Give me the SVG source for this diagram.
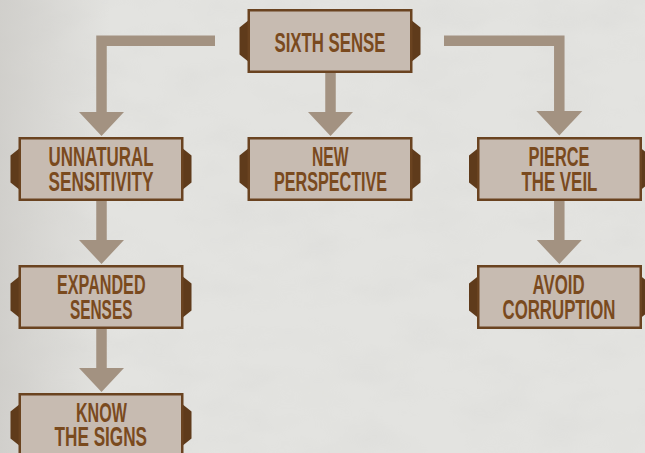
<svg xmlns="http://www.w3.org/2000/svg" width="645" height="453" viewBox="0 0 645 453">
  <defs>
    <style>
      .box { fill: #c7bbb1; stroke: #6a4320; stroke-width: 2.5; }
      .tab { fill: #5f3b1b; }
      .lbl { font-family: "Liberation Sans Narrow", "Liberation Sans", Arial, sans-serif; font-size: 27px; font-weight: bold; fill: #7a4a1e; text-anchor: middle; }
      .con { fill: none; stroke: #a39281; stroke-width: 10.5; stroke-linejoin: miter; stroke-linecap: butt; }
    </style>
    <linearGradient id="bgL" x1="0" y1="0" x2="1" y2="0">
      <stop offset="0" stop-color="#c9c7c3" stop-opacity="0.7"/>
      <stop offset="1" stop-color="#c9c7c3" stop-opacity="0"/>
    </linearGradient>
    <filter id="tex" x="0" y="0" width="100%" height="100%">
      <feTurbulence type="fractalNoise" baseFrequency="0.015 0.03" numOctaves="3" seed="4"/>
      <feColorMatrix type="matrix" values="0 0 0 0 0.55  0 0 0 0 0.55  0 0 0 0 0.54  0 0 0 -0.9 0.55"/>
    </filter>
    <marker id="ah" markerUnits="userSpaceOnUse" markerWidth="26" markerHeight="48" viewBox="0 -24 26 48" refX="0.5" refY="0" orient="auto">
      <path d="M0,-23 L24.5,0 L0,23 Z" fill="#a39281"/>
    </marker>
    <g id="tabs">
      <polygon class="tab" points="2,10.5 -8,18.5 -8,45.5 2,53.5"/>
      <polygon class="tab" points="163,10.5 173,18.5 173,45.5 163,53.5"/>
    </g>
  </defs>

  <rect x="0" y="0" width="645" height="453" fill="#e3e3e0"/>
  <rect x="0" y="0" width="645" height="453" filter="url(#tex)" opacity="0.25"/>
  <rect x="0" y="0" width="110" height="453" fill="url(#bgL)"/>

  <g id="connectors">
    <path class="con" d="M215 40.8 H101.5 V112" marker-end="url(#ah)"/>
    <path class="con" d="M330.5 73 V112" marker-end="url(#ah)"/>
    <path class="con" d="M444 40.8 H559.3 V111.5" marker-end="url(#ah)"/>
    <path class="con" d="M101.5 201 V240" marker-end="url(#ah)"/>
    <path class="con" d="M101.5 329 V368" marker-end="url(#ah)"/>
    <path class="con" d="M559.3 201 V240" marker-end="url(#ah)"/>
  </g>

  <g id="sixth-sense" transform="translate(247.5,9)">
    <use href="#tabs"/>
    <rect class="box" x="1.25" y="1.25" width="162.5" height="61.5"/>
    <text class="lbl" x="82.5" y="42.7" textLength="111" lengthAdjust="spacingAndGlyphs">SIXTH SENSE</text>
  </g>

  <g id="unnatural-sensitivity" transform="translate(18.5,137)">
    <use href="#tabs"/>
    <rect class="box" x="1.25" y="1.25" width="162.5" height="61.5"/>
    <text class="lbl" x="82.5" y="29" textLength="105" lengthAdjust="spacingAndGlyphs">UNNATURAL</text>
    <text class="lbl" x="82.5" y="53.5" textLength="105" lengthAdjust="spacingAndGlyphs">SENSITIVITY</text>
  </g>

  <g id="new-perspective" transform="translate(247.5,137)">
    <use href="#tabs"/>
    <rect class="box" x="1.25" y="1.25" width="162.5" height="61.5"/>
    <text class="lbl" x="82.8" y="29" textLength="36.5" lengthAdjust="spacingAndGlyphs">NEW</text>
    <text class="lbl" x="83" y="53.5" textLength="113" lengthAdjust="spacingAndGlyphs">PERSPECTIVE</text>
  </g>

  <g id="pierce-the-veil" transform="translate(477,137)">
    <use href="#tabs"/>
    <rect class="box" x="1.25" y="1.25" width="162.5" height="61.5"/>
    <text class="lbl" x="82" y="29" textLength="61" lengthAdjust="spacingAndGlyphs">PIERCE</text>
    <text class="lbl" x="82.4" y="53.5" textLength="76" lengthAdjust="spacingAndGlyphs">THE VEIL</text>
  </g>

  <g id="expanded-senses" transform="translate(18.5,265)">
    <use href="#tabs"/>
    <rect class="box" x="1.25" y="1.25" width="162.5" height="61.5"/>
    <text class="lbl" x="82.8" y="29" textLength="88.5" lengthAdjust="spacingAndGlyphs">EXPANDED</text>
    <text class="lbl" x="82.7" y="53.7" textLength="62.5" lengthAdjust="spacingAndGlyphs">SENSES</text>
  </g>

  <g id="avoid-corruption" transform="translate(477,265)">
    <use href="#tabs"/>
    <rect class="box" x="1.25" y="1.25" width="162.5" height="61.5"/>
    <text class="lbl" x="81.6" y="29" textLength="52" lengthAdjust="spacingAndGlyphs">AVOID</text>
    <text class="lbl" x="82" y="53.7" textLength="113" lengthAdjust="spacingAndGlyphs">CORRUPTION</text>
  </g>

  <g id="know-the-signs" transform="translate(18.5,393)">
    <use href="#tabs"/>
    <rect class="box" x="1.25" y="1.25" width="162.5" height="61.5"/>
    <text class="lbl" x="82.9" y="29.3" textLength="50.8" lengthAdjust="spacingAndGlyphs">KNOW</text>
    <text class="lbl" x="82.3" y="53" textLength="92.5" lengthAdjust="spacingAndGlyphs">THE SIGNS</text>
  </g>
</svg>
